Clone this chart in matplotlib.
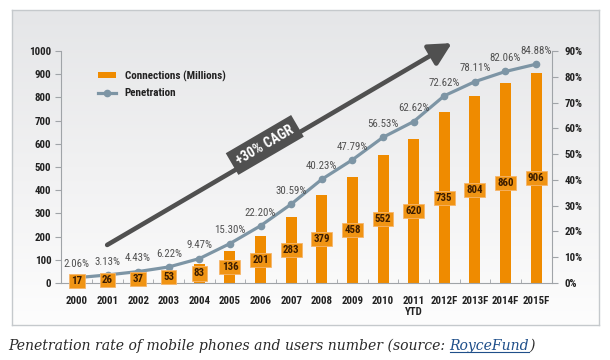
import numpy as np
import matplotlib
matplotlib.use("Agg")
import matplotlib.pyplot as plt
from matplotlib import font_manager as fm
from matplotlib.colors import LinearSegmentedColormap
from matplotlib.patches import Patch
from matplotlib.lines import Line2D

years = ['2000', '2001', '2002', '2003', '2004', '2005', '2006', '2007', '2008',
         '2009', '2010', '2011\nYTD', '2012F', '2013F', '2014F', '2015F']
connections = [17, 26, 37, 53, 83, 136, 201, 283, 379, 458, 552, 620, 735, 804, 860, 906]
penetration = [2.06, 3.13, 4.43, 6.22, 9.47, 15.30, 22.20, 30.59, 40.23, 47.79,
               56.53, 62.62, 72.62, 78.11, 82.06, 84.88]
left_ticks = list(range(0, 1001, 100))
right_ticks = list(range(0, 91, 10))

avail = {f.name for f in fm.fontManager.ttflist}
sans = 'DejaVu Sans'
for cand in ['Roboto Condensed', 'Liberation Sans Narrow', 'Open Sans Condensed', 'Liberation Sans']:
    if cand in avail:
        sans = cand
        break
plt.rcParams['font.family'] = [sans, 'DejaVu Sans']

W, H = 610, 360
fig = plt.figure(figsize=(W / 100, H / 100), dpi=100)

# background panel with gradient
bg = fig.add_axes([12 / W, 1 - 325 / H, 587 / W, 315 / H])
grad = np.linspace(0, 1, 256).reshape(-1, 1)
cmap = LinearSegmentedColormap.from_list('g', ['#e5e6e8', '#f1f1f2', '#fdfdfd'])
bg.imshow(grad, aspect='auto', cmap=cmap, extent=[0, 1, 0, 1])
bg.set_xticks([]); bg.set_yticks([])
for s in bg.spines.values():
    s.set_color('#c5c9cc'); s.set_linewidth(1.0)

ax = fig.add_axes([61 / W, 1 - 283 / H, 491 / W, 232 / H])
ax.patch.set_alpha(0)
x = np.arange(len(years))
bar_color = '#ef8b00'
line_color = '#7d95a5'
ax.bar(x, connections, width=0.36, color=bar_color, zorder=2)
ax.set_xlim(-0.52, 15.52)
ax.set_ylim(0, 1000)

ax2 = ax.twinx()
ax2.set_ylim(0, 90)
ax2.plot(x, penetration, color=line_color, lw=2.3, marker='o', ms=4.5, zorder=3)

axis_gray = '#a0a4a8'
for s in ['top', 'right']:
    ax.spines[s].set_visible(False)
for s in ['top', 'left', 'bottom']:
    ax2.spines[s].set_visible(False)
ax.spines['left'].set_color(axis_gray)
ax.spines['bottom'].set_color(axis_gray)
ax2.spines['right'].set_color(axis_gray)

ax.set_yticks(left_ticks)
ax.set_yticklabels([str(v) for v in left_ticks], fontweight='bold')
ax.tick_params(axis='y', direction='out', length=4, color=axis_gray, labelsize=7.8,
               labelcolor='#222222', pad=3)
ax2.set_yticks(right_ticks)
ax2.set_yticklabels([f'{v}%' for v in right_ticks], fontweight='bold')
ax2.tick_params(axis='y', direction='out', length=4, color=axis_gray, labelsize=7.8,
                labelcolor='#222222', pad=5)

ax.set_xticks(x)
ax.set_xticklabels(years, fontweight='bold')
ax.tick_params(axis='x', which='major', length=0, labelsize=7.8, labelcolor='#222222', pad=9)
ax.set_xticks(np.arange(0.5, len(years) - 1, 1), minor=True)
ax.tick_params(axis='x', which='minor', direction='in', length=3, color=axis_gray)

# penetration labels
for xi, p in zip(x, penetration):
    ax2.annotate(f'{p:.2f}%', (xi, p), xytext=(0, 9.5), textcoords='offset points',
                 ha='center', va='center', fontsize=7.8, color='#505050', zorder=4)

# connection labels
for xi, c in zip(x, connections):
    ax2.text(xi, c / 2, str(c), transform=ax.transData, ha='center', va='center',
             fontsize=7.8, fontweight='bold', color='#3b1c00', zorder=5,
             bbox=dict(boxstyle='square,pad=0.2', fc='#f09414', ec='#f6b56a', lw=0.6))

# CAGR arrow
arrow_gray = '#505050'
ax.annotate('', xy=(0.796, 1.034), xytext=(0.094, 0.164), xycoords='axes fraction',
            textcoords='axes fraction', annotation_clip=False,
            arrowprops=dict(arrowstyle='-|>,head_length=1.35,head_width=0.7', lw=3.3,
                            color=arrow_gray, shrinkA=0, shrinkB=0))
ax.text(0.415, 0.595, '+30% CAGR', transform=ax.transAxes, rotation=30.3,
        rotation_mode='anchor', ha='center', va='center', color='white',
        fontweight='bold', fontsize=10,
        bbox=dict(boxstyle='square,pad=0.4', fc=arrow_gray, ec='none'))

# legend
handles = [Patch(fc=bar_color, ec='none'),
           Line2D([], [], color=line_color, lw=2.3, marker='o', ms=4.5)]
ax2.legend(handles, ['Connections (Millions)', 'Penetration'], loc='upper left',
           bbox_to_anchor=(0.055, 0.96), frameon=False,
           prop=dict(weight='bold', size=8), handlelength=1.6, handleheight=0.5,
           labelspacing=0.6, handletextpad=0.8, labelcolor='#222222')

# caption
cap_kw = dict(fontstyle='italic', family=['DejaVu Serif'], fontsize=10.1)
t1 = fig.text(8 / W, 1 - 350 / H, 'Penetration rate of mobile phones and users number (source: ',
              color='#2a2a2a', **cap_kw)
fig.canvas.draw()
r = fig.canvas.get_renderer()
bb1 = t1.get_window_extent(r)
t2 = fig.text(bb1.x1 / W, 1 - 350 / H, 'RoyceFund', color='#1f4f8a', **cap_kw)
fig.canvas.draw()
bb2 = t2.get_window_extent(r)
t3 = fig.text(bb2.x1 / W, 1 - 350 / H, ')', color='#2a2a2a', **cap_kw)
uy = (bb2.y0 + 1.5) / H
fig.add_artist(Line2D([bb2.x0 / W, bb2.x1 / W], [uy, uy], color='#1f4f8a', lw=0.8,
                      transform=fig.transFigure))

fig.savefig('out.png', dpi=100)
